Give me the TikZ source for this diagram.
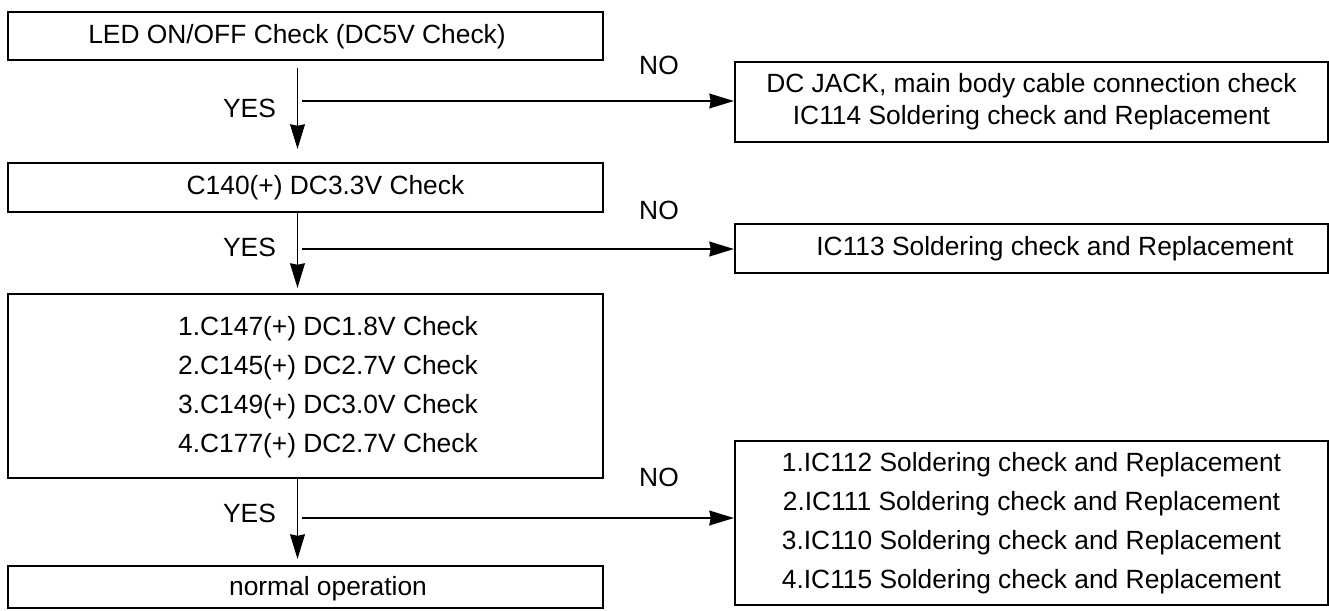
\documentclass[tikz,border=0pt]{standalone}
\usepackage{fontspec}
\setmainfont{Liberation Sans}
\usetikzlibrary{arrows.meta}

\begin{document}
\begin{tikzpicture}[>={Stealth[length=14pt, width=8.4pt, inset=0.8pt]}, font=\fontsize{15}{18.2}\selectfont,
  box/.style={draw, line width=1.2pt, minimum width=11.9cm, inner sep=0pt},
  res/.style={draw, line width=1.2pt, minimum width=11.86cm, align=center, inner sep=0pt},
  lst/.style={align=center, font=\fontsize{15}{22.2}\selectfont},
  arr/.style={->, line width=1.1pt}]
\useasboundingbox (0,0) rectangle (26.58,-12.2);
% left column
\node[box, minimum height=0.95cm] (led) at (6.11,-0.72) {};
\node (ledt) at (5.94,-0.74) {LED ON/OFF Check (DC5V Check)};
\node[box, minimum height=0.98cm] (c140) at (6.11,-3.75) {};
\node (c140t) at (6.51,-3.76) {C140(+) DC3.3V Check};
\node[box, minimum height=3.68cm] (chk3) at (6.11,-7.72) {};
\node[lst] (chk3t) at (6.56,-7.74) {1.C147(+) DC1.8V Check\\2.C145(+) DC2.7V Check\\3.C149(+) DC3.0V Check\\4.C177(+) DC2.7V Check};
\node[box, minimum height=0.84cm] (norm) at (6.11,-11.74) {};
\node (normt) at (6.56,-11.78) {normal operation};
% right column
\node[res, minimum height=1.6cm] (jack) at (20.63,-2.04) {DC JACK, main body cable connection check\\IC114 Soldering check and Replacement};
\node[res, minimum height=0.98cm] (ic113) at (20.63,-4.97) {};
\node (ic113t) at (21.1,-4.97) {IC113 Soldering check and Replacement};
\node[res, lst, minimum height=3.28cm] (ic4) at (20.63,-10.46) {1.IC112 Soldering check and Replacement\\2.IC111 Soldering check and Replacement\\3.IC110 Soldering check and Replacement\\4.IC115 Soldering check and Replacement};
% YES path
\draw[arr] ([xshift=-0.16cm, yshift=-0.15cm]led.south) -- ([xshift=-0.16cm, yshift=0.26cm]c140.north);
\draw[arr] ([xshift=-0.16cm]c140.south) -- ([xshift=-0.16cm, yshift=0.1cm]chk3.north);
\draw[arr] ([xshift=-0.16cm]chk3.south) -- ([xshift=-0.16cm, yshift=0.12cm]norm.north);
% NO path
\coordinate (n1) at (6.04,-2.02);
\coordinate (n2) at (6.04,-4.98);
\coordinate (n3) at (6.04,-10.36);
\draw[arr] (n1) -- (n1 -| jack.west);
\draw[arr] (n2) -- (n2 -| ic113.west);
\draw[arr] (n3) -- (n3 -| ic4.west);
\node (yes1) at (4.99,-2.16) {YES};
\node (yes2) at (4.99,-4.94) {YES};
\node (yes3) at (4.99,-10.26) {YES};
\node (no1) at (13.18,-1.3) {NO};
\node (no2) at (13.18,-4.2) {NO};
\node (no3) at (13.18,-9.54) {NO};
\end{tikzpicture}
\end{document}
